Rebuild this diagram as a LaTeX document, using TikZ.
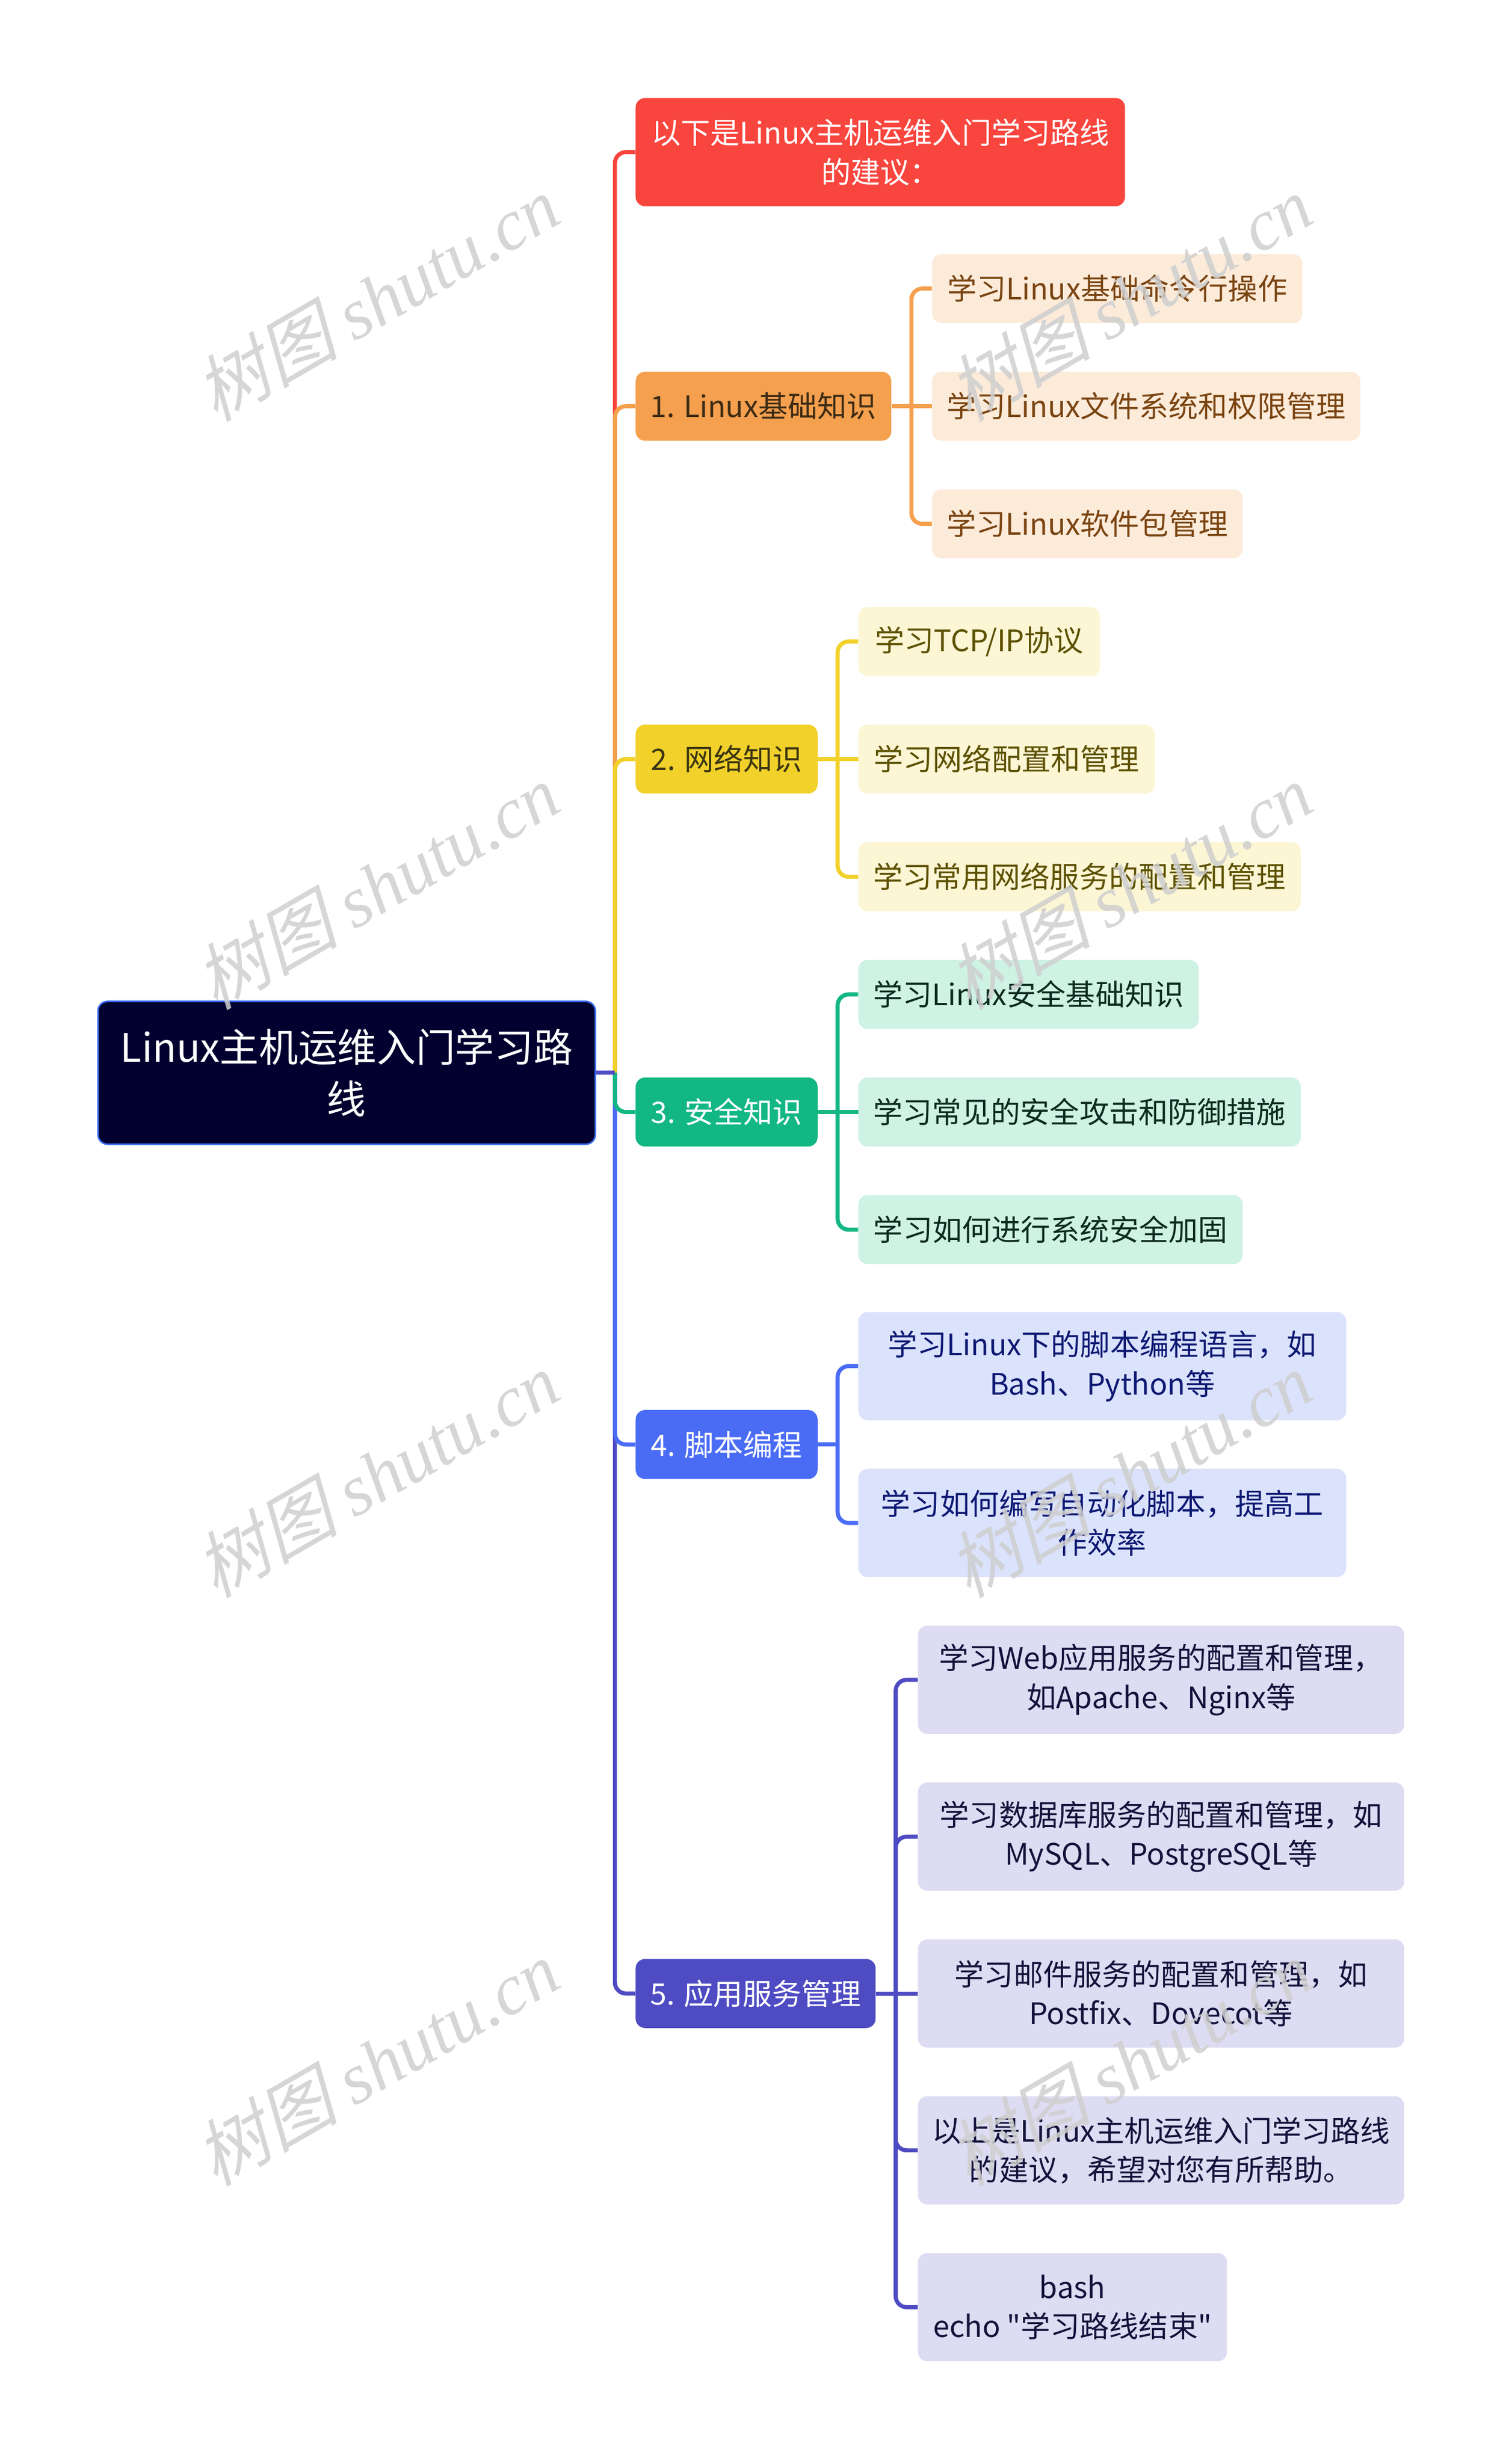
\documentclass[tikz,border=0pt]{standalone}
\usepackage{fontspec}
\setmainfont{Noto Sans CJK SC}
\newfontfamily\wmcjk[FakeSlant=0.25]{Noto Sans CJK SC}
\newfontfamily\wmlat{Liberation Serif}

\definecolor{rootfill}{HTML}{02002E}
\definecolor{rootline}{HTML}{3A6CF2}
\definecolor{redc}{HTML}{F8453D}
\definecolor{orangec}{HTML}{F4A04E}
\definecolor{orangel}{HTML}{FDEBDA}
\definecolor{oranget}{HTML}{7A4411}
\definecolor{onet}{HTML}{3D2B14}
\definecolor{yellowc}{HTML}{F1D12A}
\definecolor{yellowl}{HTML}{FCF6D5}
\definecolor{yellowt}{HTML}{5C5000}
\definecolor{twot}{HTML}{3A3412}
\definecolor{greenc}{HTML}{12B783}
\definecolor{greenl}{HTML}{CEF2E3}
\definecolor{greent}{HTML}{0D2A1F}
\definecolor{bluec}{HTML}{4A6CF5}
\definecolor{bluel}{HTML}{DBE2FC}
\definecolor{bluet}{HTML}{0C1872}
\definecolor{purplec}{HTML}{4E4BC3}
\definecolor{purplel}{HTML}{DDDCF2}
\definecolor{purplet}{HTML}{12123A}
\definecolor{wmgray}{HTML}{CFCFCF}

\begin{document}
\begin{tikzpicture}[x=1pt, y=-1pt,
    topic/.style={rounded corners=6pt, minimum height=44pt, inner xsep=0pt,
        anchor=west, align=center, font=\fontsize{18.8}{25}\selectfont},
    link/.style={line width=2.6pt, rounded corners=7pt}]
    \fill[white] (0,0) rectangle (960,1571);

        %draw root and first level
    \node[topic, fill=rootfill, draw=rootline, line width=1pt, text=white,
        minimum width=317pt, minimum height=91pt,
        font=\fontsize{25}{33}\selectfont] (root) at (62,684) {Linux主机运维入门学习路\\线};
    \node[topic, fill=redc, text=white, minimum width=312pt, minimum height=69pt] (intro) at (405,97) {以下是Linux主机运维入门学习路线\\的建议：};
    \node[topic, fill=orangec, text=onet, minimum width=163pt] (basic) at (405,259) {1. Linux基础知识};
    \node[topic, fill=yellowc, text=twot, minimum width=116pt] (net) at (405,484) {2. 网络知识};
    \node[topic, fill=greenc, text=white, minimum width=116pt] (sec) at (405,709) {3. 安全知识};
    \node[topic, fill=bluec, text=white, minimum width=116pt] (script) at (405,921) {4. 脚本编程};
    \node[topic, fill=purplec, text=white, minimum width=153pt] (serv) at (405,1271) {5. 应用服务管理};

        %draw children of 1
    \node[topic, fill=orangel, text=oranget, minimum width=236pt] (basicA) at (594,184) {学习Linux基础命令行操作};
    \node[topic, fill=orangel, text=oranget, minimum width=273pt] (basicB) at (594,259) {学习Linux文件系统和权限管理};
    \node[topic, fill=orangel, text=oranget, minimum width=198pt] (basicC) at (594,334) {学习Linux软件包管理};
        %draw children of 2
    \node[topic, fill=yellowl, text=yellowt, minimum width=154pt] (netA) at (547,409) {学习TCP/IP协议};
    \node[topic, fill=yellowl, text=yellowt, minimum width=189pt] (netB) at (547,484) {学习网络配置和管理};
    \node[topic, fill=yellowl, text=yellowt, minimum width=282pt] (netC) at (547,559) {学习常用网络服务的配置和管理};
        %draw children of 3
    \node[topic, fill=greenl, text=greent, minimum width=217pt] (secA) at (547,634) {学习Linux安全基础知识};
    \node[topic, fill=greenl, text=greent, minimum width=282pt] (secB) at (547,709) {学习常见的安全攻击和防御措施};
    \node[topic, fill=greenl, text=greent, minimum width=245pt] (secC) at (547,784) {学习如何进行系统安全加固};
        %draw children of 4
    \node[topic, fill=bluel, text=bluet, minimum width=311pt, minimum height=69pt] (scriptA) at (547,871) {学习Linux下的脚本编程语言，如\\Bash、Python等};
    \node[topic, fill=bluel, text=bluet, minimum width=311pt, minimum height=69pt] (scriptB) at (547,971) {学习如何编写自动化脚本，提高工\\作效率};
        %draw children of 5
    \node[topic, fill=purplel, text=purplet, minimum width=310pt, minimum height=69pt] (servA) at (585,1071) {学习Web应用服务的配置和管理，\\如Apache、Nginx等};
    \node[topic, fill=purplel, text=purplet, minimum width=310pt, minimum height=69pt] (servB) at (585,1171) {学习数据库服务的配置和管理，如\\MySQL、PostgreSQL等};
    \node[topic, fill=purplel, text=purplet, minimum width=310pt, minimum height=69pt] (servC) at (585,1271) {学习邮件服务的配置和管理，如\\Postfix、Dovecot等};
    \node[topic, fill=purplel, text=purplet, minimum width=310pt, minimum height=69pt] (servD) at (585,1371) {以上是Linux主机运维入门学习路线\\的建议，希望对您有所帮助。};
    \node[topic, fill=purplel, text=purplet, minimum width=197pt, minimum height=69pt] (servE) at (585,1471) {bash\\echo \textquotedbl 学习路线结束\textquotedbl};

        %draw lines root to first level
    \coordinate (hub) at (392,684);
    \draw[link, redc] (hub) |- (intro.west);
    \draw[link, orangec] (hub) |- (basic.west);
    \draw[link, yellowc] (hub) |- (net.west);
    \draw[link, purplec] (hub) |- (serv.west);
    \draw[link, bluec] (hub) |- (script.west);
    \draw[link, greenc] (hub) |- (sec.west);
    \draw[link, purplec] (root.east) -- (hub);

        %draw lines to children
    \coordinate (basichub) at (581,259);
    \draw[link, orangec] (basic.east) -- (basicB.west);
    \foreach \k in {basicA,basicC}
        \draw[link, orangec] (basichub) |- (\k.west);
    \coordinate (nethub) at (534,484);
    \draw[link, yellowc] (net.east) -- (netB.west);
    \foreach \k in {netA,netC}
        \draw[link, yellowc] (nethub) |- (\k.west);
    \coordinate (sechub) at (534,709);
    \draw[link, greenc] (sec.east) -- (secB.west);
    \foreach \k in {secA,secC}
        \draw[link, greenc] (sechub) |- (\k.west);
    \coordinate (scripthub) at (534,921);
    \draw[link, bluec] (script.east) -- (scripthub);
    \foreach \k in {scriptA,scriptB}
        \draw[link, bluec] (scripthub) |- (\k.west);
    \coordinate (servhub) at (571,1271);
    \draw[link, purplec] (serv.east) -- (servC.west);
    \foreach \k in {servA,servB,servD,servE}
        \draw[link, purplec] (servhub) |- (\k.west);

        %draw watermarks
    \foreach \wx in {240,720}
        \foreach \wy in {190,565,940,1315}
            \node[rotate=30, text=wmgray, opacity=0.85, font=\fontsize{46}{46}\selectfont]
                (wm-\wx-\wy) at (\wx,\wy) {{\wmcjk 树图} {\wmlat\itshape shutu.cn}};
\end{tikzpicture}
\end{document}
